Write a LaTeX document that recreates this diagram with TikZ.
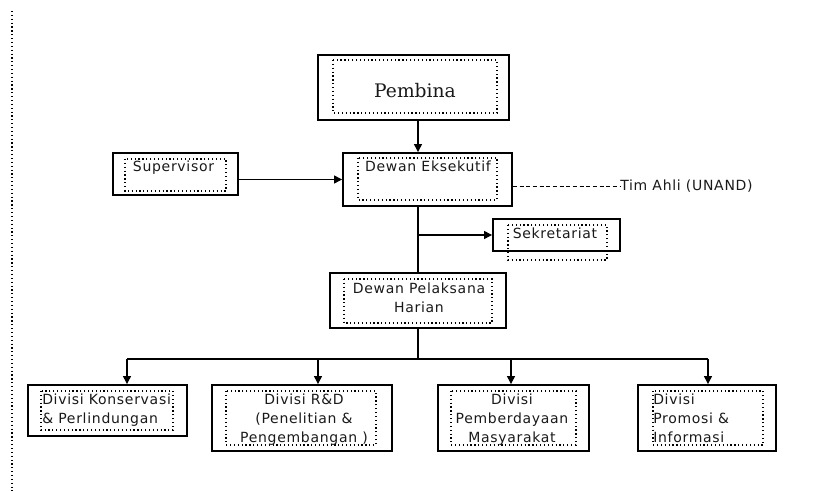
\documentclass[tikz,border=0pt]{standalone}
\usepackage{fontspec}
\setmainfont{DejaVu Sans}[LetterSpace=5]
\newfontfamily\judulfont{DejaVu Serif}
\usetikzlibrary{arrows.meta}

\begin{document}
\begin{tikzpicture}[x=0.75pt,y=-0.75pt,
    kotak/.style={draw,line width=1.4pt,inner sep=0pt},
    bingkai/.style={dotted,line width=0.9pt},
    teks/.style={inner sep=0pt,font=\fontsize{10.5}{14.25}\selectfont,text=black!90},
    panah/.style={-{Triangle[length=6pt,width=6pt]},line width=0.9pt}]
    \useasboundingbox (0,0) rectangle (817,491);
    % garis tepi kiri
    \draw[bingkai] (12,11) -- (12,491);

    % kotak luar
    \node[kotak,minimum width=191*0.75pt,minimum height=65*0.75pt] (pem) at (413.5,87.5) {};
    \node[kotak,minimum width=169*0.75pt,minimum height=53*0.75pt] (eks) at (427.5,179.5) {};
    \node[kotak,minimum width=125*0.75pt,minimum height=42*0.75pt] (sup) at (175.5,174) {};
    \node[kotak,minimum width=127*0.75pt,minimum height=32*0.75pt] (sek) at (556.5,235) {};
    \node[kotak,minimum width=176*0.75pt,minimum height=55*0.75pt] (dph) at (418,300.5) {};
    \node[kotak,minimum width=159*0.75pt,minimum height=51*0.75pt] (div1) at (107.5,410.5) {};
    \node[kotak,minimum width=180*0.75pt,minimum height=66*0.75pt] (div2) at (302,418) {};
    \node[kotak,minimum width=151*0.75pt,minimum height=66*0.75pt] (div3) at (513.5,418) {};
    \node[kotak,minimum width=138*0.75pt,minimum height=66*0.75pt] (div4) at (707,418) {};

    % bingkai titik-titik di dalam
    \draw[bingkai] (333,60) rectangle (497,113);
    \draw[bingkai] (358,158) rectangle (497,200);
    \draw[bingkai] (125,159) rectangle (226,191);
    \draw[bingkai] (508,225) rectangle (607,260);
    \draw[bingkai] (344,279) rectangle (492,323);
    \draw[bingkai] (41,391) rectangle (173,430);
    \draw[bingkai] (226,391) rectangle (376,445);
    \draw[bingkai] (451,391) rectangle (576,445);
    \draw[bingkai] (653,391) rectangle (763,445);

    % teks
    \node[inner sep=0pt,font=\judulfont\fontsize{14}{16}\selectfont,text=black!90] (pem-t) at (415,91) {Pembina};
    \node[teks,anchor=base] (sup-t) at (173.5,172) {Supervisor};
    \node[teks,anchor=base] (eks-t) at (428,172) {Dewan Eksekutif};
    \node[teks,anchor=base west] (tim) at (620,191) {Tim Ahli (UNAND)};
    \node[teks,anchor=base] (sek-t) at (555,239) {Sekretariat};
    \node[teks,anchor=north,align=center] (dph-t) at (419,283) {Dewan Pelaksana\\Harian};
    \node[teks,anchor=north west,align=left] (div1-t) at (42,394) {Divisi Konservasi\\\& Perlindungan};
    \node[teks,anchor=north,align=center] (div2-t) at (304,394) {Divisi R\&D\\(Penelitian \&\\Pengembangan )};
    \node[teks,anchor=north,align=center] (div3-t) at (512,394) {Divisi\\Pemberdayaan\\Masyarakat};
    \node[teks,anchor=north west,align=left] (div4-t) at (653,394) {Divisi\\Promosi \&\\Informasi};

    % garis penghubung
    \coordinate (batang) at (418,0);
    \draw[panah] (pem.south -| batang) -- (eks.north -| batang);
    \draw[panah] (sup.east |- eks.west) -- (eks.west);
    \draw[dash pattern=on 3pt off 2pt,line width=0.6pt] (eks.east |- tim.west) -- (tim.west);
    \draw[line width=0.9pt] (eks.south -| batang) -- (dph.north -| batang);
    \draw[panah] (sek.west -| batang) -- (sek.west);
    \coordinate (c1) at (127,359);
    \coordinate (c2) at (318,359);
    \coordinate (c3) at (511,359);
    \coordinate (c4) at (708,359);
    \draw[line width=0.9pt] (dph.south -| batang) -- (c1 -| batang);
    \draw[line width=0.9pt] (c1) -- (c4);
    \foreach \i in {1,2,3,4}
        \draw[panah] (c\i) -- (c\i |- div\i.north);
\end{tikzpicture}
\end{document}
